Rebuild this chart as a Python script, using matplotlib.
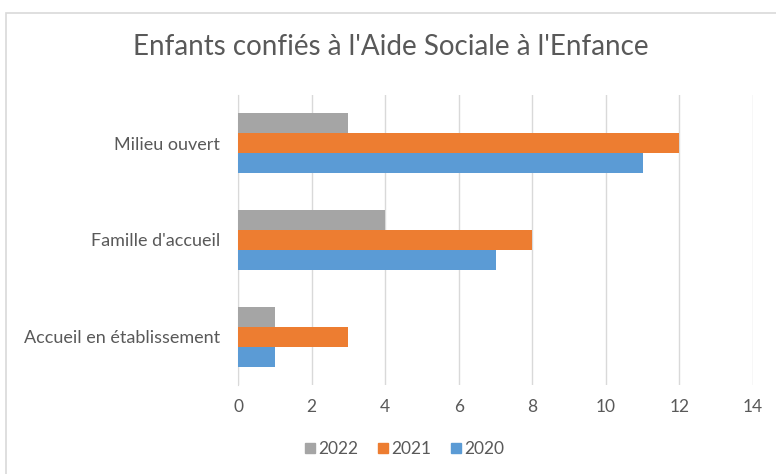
import numpy as np
import matplotlib.pyplot as plt
from matplotlib.patches import Rectangle
from matplotlib.lines import Line2D

plt.rcParams['font.family'] = ['Lato', 'DejaVu Sans']

# données
categories = ["Accueil en établissement", "Famille d'accueil", "Milieu ouvert"]
annees = ["2022", "2021", "2020"]
valeurs_2022 = [1, 4, 3]
valeurs_2021 = [3, 8, 12]
valeurs_2020 = [1, 7, 11]
couleurs = {"2022": "#a5a5a5", "2021": "#ed7d31", "2020": "#5b9bd5"}

fig = plt.figure(figsize=(7.76, 4.74), dpi=100)
ax = fig.add_axes([238 / 776, 1 - 385 / 474, (753 - 238) / 776, (385 - 95) / 474])

# cadre du graphique
fig.patches.append(Rectangle((6 / 776, -0.05), 1.0, 1.05 - 13 / 474,
                             transform=fig.transFigure, fill=False,
                             edgecolor="#d9d9d9", linewidth=1.2))

y = np.arange(len(categories))
h = 0.207
ax.barh(y - h, valeurs_2020, height=h, color=couleurs["2020"], zorder=3)
ax.barh(y, valeurs_2021, height=h, color=couleurs["2021"], zorder=3)
ax.barh(y + h, valeurs_2022, height=h, color=couleurs["2022"], zorder=3)

ax.set_xlim(0, 14)
ax.set_ylim(-0.5, 2.5)
ax.set_xticks(range(0, 15, 2))
ax.set_yticks(y)
ax.set_yticklabels(categories)
ax.grid(axis="x", color="#d9d9d9", linewidth=1, zorder=0)
for s in ["top", "right", "bottom"]:
    ax.spines[s].set_visible(False)
ax.spines["left"].set_color("#d9d9d9")
ax.tick_params(length=0, labelsize=12.5, labelcolor="#595959")
ax.tick_params(axis="x", pad=10)
ax.tick_params(axis="y", pad=13, labelsize=13)

fig.text(0.503, 1 - 47 / 474, "Enfants confiés à l'Aide Sociale à l'Enfance",
         ha="center", va="center", fontsize=20, color="#595959")

poignees = [Line2D([], [], marker="s", linestyle="", markersize=7,
                   color=couleurs[a]) for a in annees]
fig.legend(poignees, annees, loc="center", bbox_to_anchor=(0.52, 1 - 449 / 474),
           ncol=3, frameon=False, fontsize=12.5, labelcolor="#595959",
           handletextpad=0.1, columnspacing=1.0, handlelength=0.8)

fig.savefig("out.png", dpi=100)
